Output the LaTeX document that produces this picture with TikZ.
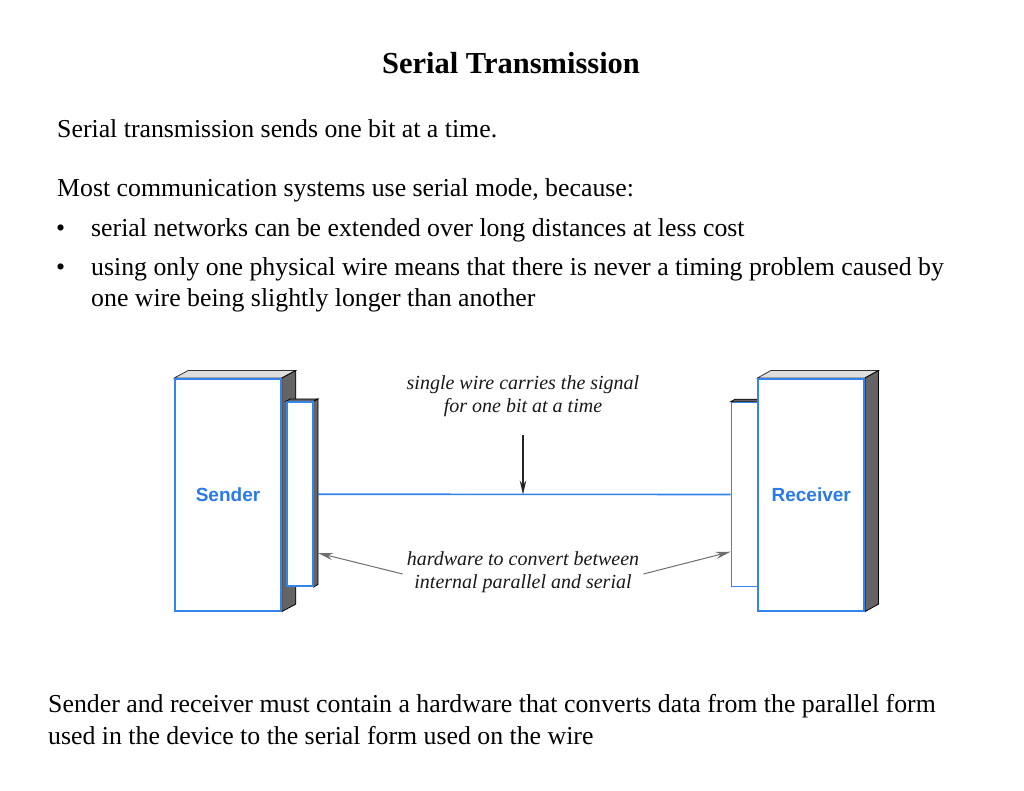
\documentclass[tikz,border=0pt]{standalone}
\usepackage{fontspec}
\setmainfont{Liberation Serif}
\setsansfont{Liberation Sans}
\usetikzlibrary{arrows.meta,backgrounds}
\definecolor{wireblue}{RGB}{52,132,238}
\definecolor{textblue}{RGB}{42,122,232}
\definecolor{sidegray}{RGB}{100,100,100}
\definecolor{topgray}{RGB}{222,222,222}
\definecolor{pointgray}{RGB}{110,110,110}
\begin{document}
\begin{tikzpicture}[x=1pt,y=-1pt,
  body/.style={font=\fontsize{25.8}{30}\selectfont, anchor=base west, inner sep=0pt},
  titletext/.style={font=\bfseries\fontsize{30.5}{36}\selectfont, anchor=base, inner sep=0pt},
  note/.style={font=\itshape\fontsize{20}{23.5}\selectfont, align=center, inner sep=1pt, text=black!90},
  device/.style={draw=wireblue, line width=1.6pt, fill=white, inner sep=0pt,
    minimum width=106pt, minimum height=232pt, text=textblue,
    font=\sffamily\bfseries\fontsize{19}{22}\selectfont},
  converter/.style={draw=wireblue, line width=1.6pt, fill=white, inner sep=0pt,
    minimum width=26pt, minimum height=184pt},
  topface/.style={fill=topgray, draw=black!80, line width=0.8pt},
  sideface/.style={fill=sidegray, draw=black, line width=0.8pt},
  wire/.style={draw=wireblue, line width=1.6pt},
  pointer/.style={draw=pointgray, line width=1pt, -{Stealth[length=15pt,width=7pt]}},
  signal/.style={draw=black!85, line width=1.4pt, -{Stealth[length=14pt,width=6.5pt]}}
]
\useasboundingbox (0,0) rectangle (1024,791);

% texts
\node[titletext] (title) at (511,73.3) {Serial Transmission};
\node[body] (l1) at (57,137.3) {Serial transmission sends one bit at a time.};
\node[body] (l2) at (57,196.7) {Most communication systems use serial mode, because:};
\node[body] (b1) at (56,236.7) {•};
\node[body] (l3) at (91,236.7) {serial networks can be extended over long distances at less cost};
\node[body] (b2) at (56,276) {•};
\node[body] (l4) at (91,276) {using only one physical wire means that there is never a timing problem caused by};
\node[body] (l5) at (91,306) {one wire being slightly longer than another};
\node[body] (l6) at (48,712) {Sender and receiver must contain a hardware that converts data from the parallel form};
\node[body] (l7) at (48,744) {used in the device to the serial form used on the wire};

% sender
\node[device] (sender) at (228,494.8) {Sender};
\node[converter] (sconv) at (299.7,494.2) {};
% receiver converter (behind receiver)
\node[converter] (rconv) at (744.5,494.5) {};
\node[device] (receiver) at (811.2,494.8) {Receiver};

\begin{scope}[on background layer]
  \fill[white] (0,0) rectangle (1024,791);
  \path[topface] (sender.north west) -- ([shift={(14,-7.5)}]sender.north west)
     -- ([shift={(14,-7.5)}]sender.north east) -- (sender.north east) -- cycle;
  \path[sideface] (sender.north east) -- ([shift={(14,-7.5)}]sender.north east)
     -- ([shift={(14,-7.5)}]sender.south east) -- (sender.south east) -- cycle;
  \path[sideface] (sconv.north west) -- ([shift={(4.5,-2.5)}]sconv.north west)
     -- ([shift={(4.5,-2.5)}]sconv.north east) -- (sconv.north east) -- cycle;
  \path[sideface] (sconv.north east) -- ([shift={(4.5,-2.5)}]sconv.north east)
     -- ([shift={(4.5,-2.5)}]sconv.south east) -- (sconv.south east) -- cycle;
  \path[sideface] (rconv.north west) -- ([shift={(4.5,-2.5)}]rconv.north west)
     -- ([shift={(4.5,-2.5)}]rconv.north east) -- (rconv.north east) -- cycle;
  \path[topface] (receiver.north west) -- ([shift={(13.5,-7.5)}]receiver.north west)
     -- ([shift={(13.5,-7.5)}]receiver.north east) -- (receiver.north east) -- cycle;
  \path[sideface] (receiver.north east) -- ([shift={(13.5,-7.5)}]receiver.north east)
     -- ([shift={(13.5,-7.5)}]receiver.south east) -- (receiver.south east) -- cycle;
\end{scope}

% wire
\path[wire] ([shift={(4.5,0)}]sconv.east) -- (rconv.west);

% annotations
\node[note] (signote) at (523,396) {single wire carries the signal\\for one bit at a time};
\coordinate (sigtop) at (523,435);
\draw[signal] (sigtop) -- (sigtop |- rconv.west);

\node[note] (hwnote) at (523,572) {hardware to convert between\\internal parallel and serial};
\draw[pointer] ([shift={(-3,2)}]hwnote.west) -- ([shift={(4.5,58.8)}]sconv.east);
\draw[pointer] ([shift={(3,2)}]hwnote.east) -- ([shift={(0,57.2)}]rconv.west);
\end{tikzpicture}
\end{document}
